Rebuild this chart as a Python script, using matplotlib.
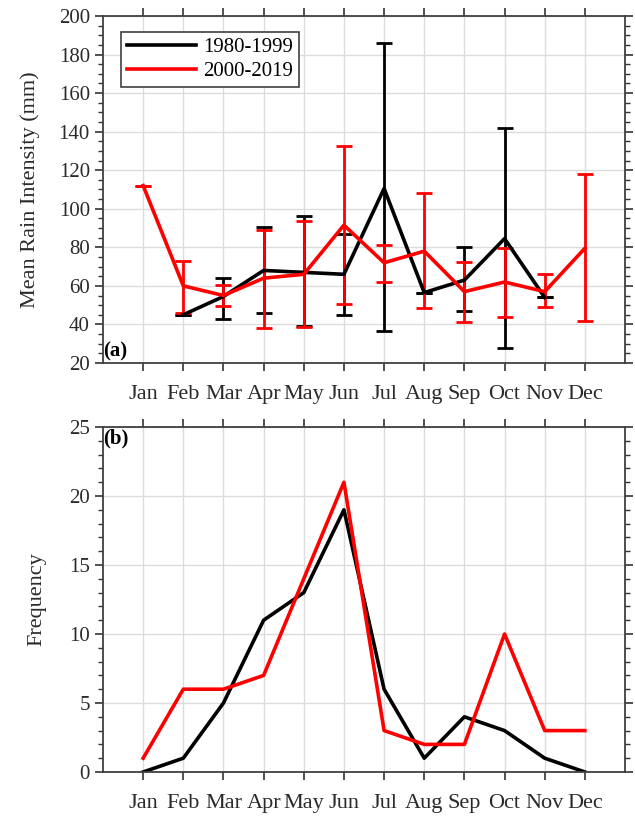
import numpy as np
import matplotlib
matplotlib.use("Agg")
import matplotlib.pyplot as plt
from matplotlib.ticker import MultipleLocator
from matplotlib.lines import Line2D

plt.rcParams['font.family'] = ['Liberation Serif', 'DejaVu Serif']

months = ['Jan', 'Feb', 'Mar', 'Apr', 'May', 'Jun', 'Jul', 'Aug', 'Sep', 'Oct', 'Nov', 'Dec']
series_names = ['1980-1999', '2000-2019']

# Panel (a): mean rain intensity (mm) with error bar limits
int_8099 = [np.nan, 45, 54.5, 68, 67, 66, 110.5, 56.5, 63, 84.5, 54, np.nan]
int_8099_lo = [np.nan, 45, 43, 46, 39, 45, 36.5, 56.5, 47, 28, 54, np.nan]
int_8099_hi = [np.nan, 45, 64, 90.5, 96, 87, 186, 56.5, 80, 142, 54, np.nan]

int_0019 = [112, 60, 55, 64, 66, 91.5, 72, 78, 57, 62, 57, 79.5]
int_0019_lo = [112, 46, 49.5, 38, 38.5, 50.5, 62, 48.5, 41, 44, 49, 42]
int_0019_hi = [112, 73, 60.5, 89, 93.5, 132.5, 81, 108, 72.5, 79.5, 66, 118]

# Panel (b): frequency
freq_8099 = [0, 1, 5, 11, 13, 19, 6, 1, 4, 3, 1, 0]
freq_0019 = [1, 6, 6, 7, 14, 21, 3, 2, 2, 10, 3, 3]

colors = ['black', '#ff0000']
x = np.arange(1, 13)

fig = plt.figure(figsize=(6.35, 8.19), dpi=100)
ax1 = fig.add_axes([0.1622, 0.5568, 0.8221, 0.4237])
ax2 = fig.add_axes([0.1622, 0.0574, 0.8221, 0.4212])

tick_col = '#333333'
spine_col = '#404040'


def style(ax):
    ax.set_xlim(0, 13)
    ax.set_xticks(x)
    ax.set_xticklabels(months, fontsize=16)
    ax.grid(True, which='major', color='#dcdcdc', linewidth=1.0)
    ax.set_axisbelow(True)
    ax.tick_params(axis='both', which='both', direction='out', top=True, right=True,
                   colors=tick_col, labelcolor='#2a2a2a')
    ax.tick_params(axis='both', which='major', length=6, width=1.2)
    ax.tick_params(axis='y', which='minor', length=3.5, width=1.0)
    ax.tick_params(axis='y', labelsize=15)
    ax.tick_params(axis='x', which='major', pad=10)
    for s in ax.spines.values():
        s.set_color(spine_col)
        s.set_linewidth(1.3)


# Panel (a)
for vals, lo, hi, c, name in [(int_8099, int_8099_lo, int_8099_hi, colors[0], series_names[0]),
                              (int_0019, int_0019_lo, int_0019_hi, colors[1], series_names[1])]:
    v = np.array(vals, dtype=float)
    yerr = np.vstack([v - np.array(lo, dtype=float), np.array(hi, dtype=float) - v])
    ax1.errorbar(x, v, yerr=yerr, color=c, linewidth=2.6, elinewidth=2.0,
                 capsize=5.5, capthick=2.0, label=name)

ax1.set_ylim(20, 200)
ax1.yaxis.set_major_locator(MultipleLocator(20))
ax1.yaxis.set_minor_locator(MultipleLocator(5))
style(ax1)
ax1.set_ylabel('Mean Rain Intensity (mm)', fontsize=16, color='#2a2a2a')
ax1.yaxis.set_label_coords(-0.12, 0.5)
ax1.text(0.0, 0.005, '(a)', transform=ax1.transAxes, fontsize=15, fontweight='bold',
         ha='left', va='bottom')

hs = [Line2D([], [], color=colors[0], lw=2.6), Line2D([], [], color=colors[1], lw=2.6)]
leg = ax1.legend(hs, series_names, loc='upper left', bbox_to_anchor=(0.035, 0.955),
                 borderaxespad=0, fontsize=15, fancybox=False, frameon=True,
                 edgecolor='#404040', handlelength=3.3, handletextpad=0.35,
                 borderpad=0.28, labelspacing=0.22, framealpha=1)
leg.get_frame().set_linewidth(1.2)

# Panel (b)
ax2.plot(x, freq_8099, color=colors[0], linewidth=2.6)
ax2.plot(x, freq_0019, color=colors[1], linewidth=2.6)
ax2.set_ylim(0, 25)
ax2.yaxis.set_major_locator(MultipleLocator(5))
ax2.yaxis.set_minor_locator(MultipleLocator(1))
style(ax2)
ax2.set_ylabel('Frequency', fontsize=16, color='#2a2a2a')
ax2.yaxis.set_label_coords(-0.109, 0.5)
ax2.text(0.0, 0.995, '(b)', transform=ax2.transAxes, fontsize=15, fontweight='bold',
         ha='left', va='top')

fig.savefig('out.png', dpi=100)
